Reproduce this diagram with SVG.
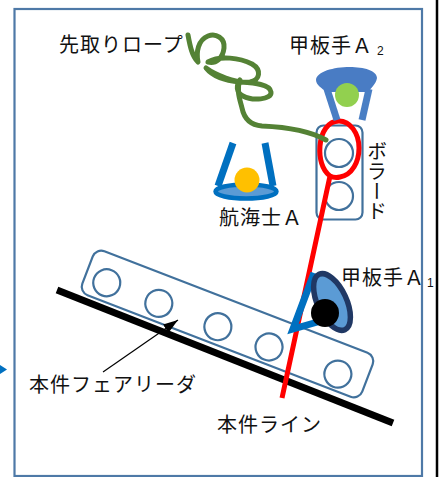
<svg xmlns="http://www.w3.org/2000/svg" width="441" height="477" viewBox="0 0 441 477">
  <style>
    .lbl { font-family: "Noto Sans CJK JP", "Noto Sans", sans-serif; font-size: 20px; fill: #111; letter-spacing: 1px; }
    .sub { font-family: "Liberation Sans", Arial, sans-serif; font-size: 12px; fill: #111; }
    .steel { fill: none; stroke: #41719C; stroke-width: 2.2; }
    .blue { stroke: #0070C0; }
  </style>
  <defs>
    <marker id="arrow" markerUnits="userSpaceOnUse" markerWidth="16" markerHeight="10" refX="15" refY="5" orient="auto">
      <path d="M0,0 L15,5 L0,10 Z" fill="#000"/>
    </marker>
    <filter id="soft" x="-20%" y="-20%" width="140%" height="140%">
      <feGaussianBlur stdDeviation="0.7"/>
    </filter>
  </defs>

  <rect width="441" height="477" fill="#fff"/>

  <!-- outer frame -->
  <g id="frame">
    <rect x="14.5" y="9" width="407.5" height="467" fill="none" stroke="#4E79A7" stroke-width="2.2"/>
    <line x1="437" y1="0" x2="437" y2="477" stroke="#000" stroke-width="2.5"/>
    <polygon points="0,365 7,369.5 0,374" fill="#0070C0"/>
  </g>

  <!-- ship side -->
  <g id="ship-side">
    <line x1="57" y1="290" x2="393" y2="423" stroke="#000" stroke-width="7"/>
  </g>

  <!-- fairlead with rollers -->
  <g id="fairlead" transform="translate(227.5,324) rotate(21.1)">
    <rect class="steel" x="-150" y="-23.5" width="300" height="47" rx="9"/>
    <circle class="steel" cx="-127.5" cy="5" r="13.5"/>
    <circle class="steel" cx="-71.5" cy="5.5" r="13.5"/>
    <circle class="steel" cx="-8" cy="6" r="13.5"/>
    <circle class="steel" cx="47" cy="6.5" r="13.5"/>
    <circle class="steel" cx="121" cy="7" r="13.5"/>
  </g>

  <!-- bollard -->
  <g id="bollard">
    <rect class="steel" x="316.5" y="125.5" width="46" height="94" rx="7"/>
    <circle class="steel" cx="339" cy="153" r="14"/>
    <circle class="steel" cx="339" cy="196" r="14"/>
  </g>

  <!-- mooring line, looped on the bollard -->
  <g id="main-line">
    <path d="M282,398 L330,176 C322,170 319,158 320,146 C321,132 328,121 339,121 C350,121 359,133 359,148 C359,162 352,175 340,177 C336,178 332,177 330,176" fill="none" stroke="#FF0000" stroke-width="5"/>
  </g>

  <!-- messenger rope, coiled loosely -->
  <g id="messenger-rope">
    <path d="M188,35 C190,46 192,56 198,62 C196,52 198,40 208,36 C216,33 225,38 224,48 C223,58 216,64 208,62 C220,55 240,58 252,64 C262,70 260,80 250,82 C236,84 214,74 206,68 C214,78 228,81 240,82 C254,83 270,84 271,92 C272,100 252,101 243,96 C236,92 236,86 240,80 C236,90 240,100 242,108 C244,118 250,125 262,126 C285,127 310,131 326,140" fill="none" stroke="#548235" stroke-width="5" stroke-linecap="round" stroke-linejoin="round"/>
  </g>

  <!-- deckhand A2 -->
  <g id="deckhand-a2" filter="url(#soft)">
    <line x1="327" y1="89" x2="337" y2="120" stroke="#4A7EC4" stroke-width="7"/>
    <line x1="369" y1="89" x2="362" y2="120" stroke="#4A7EC4" stroke-width="7"/>
    <path d="M316,80 C317,64 377,62 377,78 C376,84 371,88 368,92 L326,92 C322,88 316,85 316,80 Z" fill="#4A7CC4"/>
    <circle cx="347" cy="95" r="12" fill="#92D050"/>
  </g>

  <!-- navigator A -->
  <g id="navigator-a">
    <line class="blue" x1="233" y1="143" x2="218" y2="186" stroke-width="7"/>
    <line class="blue" x1="265" y1="143" x2="273" y2="186" stroke-width="7"/>
    <ellipse cx="246" cy="191.5" rx="30.5" ry="7" fill="#5B9BD5" stroke="#0070C0" stroke-width="4.5"/>
    <circle cx="247" cy="180" r="12.5" fill="#FFC000"/>
  </g>

  <!-- deckhand A1 -->
  <g id="deckhand-a1">
    <polyline class="blue" points="314,273 293,329 321,321" fill="none" stroke-width="7"/>
    <ellipse cx="332" cy="302" rx="14.5" ry="30.5" transform="rotate(-25 332 302)" fill="#5B9BD5" stroke="#203864" stroke-width="5.5"/>
    <circle cx="325" cy="313" r="14" fill="#000"/>
  </g>

  <!-- leader to the fairlead -->
  <g id="connectors">
    <line x1="103" y1="372" x2="178" y2="320" stroke="#000" stroke-width="1.2" marker-end="url(#arrow)"/>
  </g>

  <!-- labels -->
  <g id="labels">
    <text class="lbl" x="59" y="51.5">先取りロープ</text>
    <text class="lbl" x="289" y="53">甲板手Ａ</text>
    <text class="sub" x="377" y="55">2</text>
    <text class="lbl" x="377" y="141" writing-mode="vertical-rl" style="letter-spacing:0">ボラード</text>
    <text class="lbl" x="219" y="225">航海士Ａ</text>
    <text class="lbl" x="341" y="284.5">甲板手Ａ</text>
    <text class="sub" x="427" y="287">1</text>
    <text class="lbl" x="29" y="391.5">本件フェアリーダ</text>
    <text class="lbl" x="217" y="431.5">本件ライン</text>
  </g>
</svg>
